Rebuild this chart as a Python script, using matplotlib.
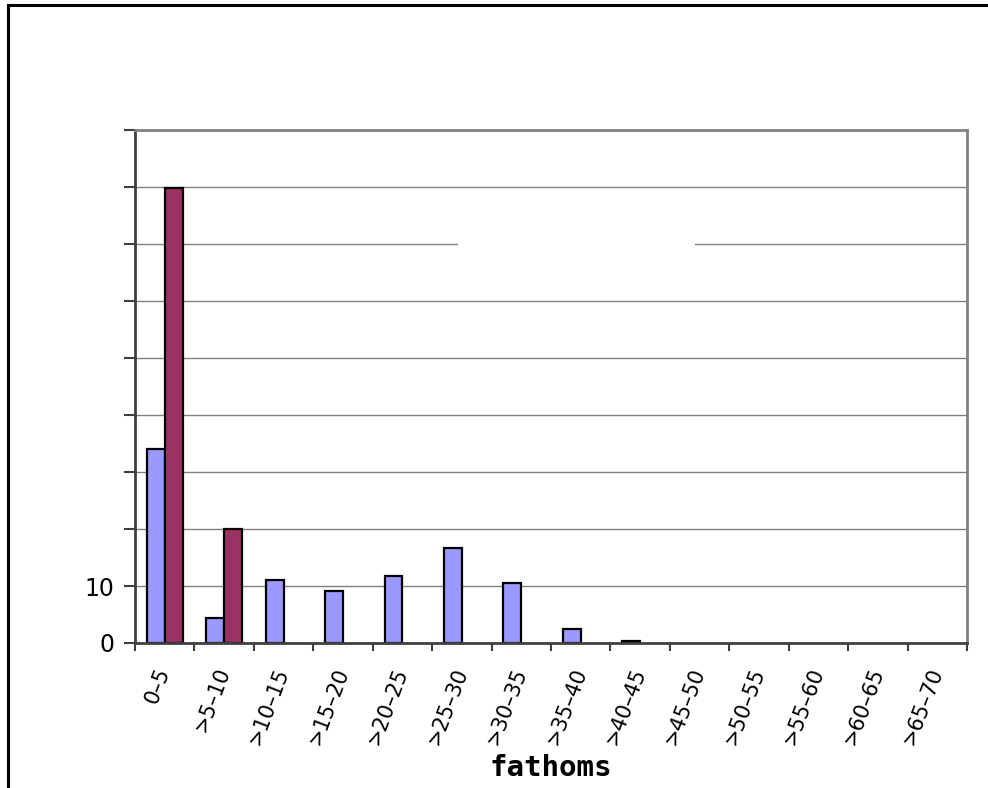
import numpy as np
import matplotlib
matplotlib.use("Agg")
import matplotlib.pyplot as plt
from matplotlib.patches import Rectangle
from matplotlib.lines import Line2D

categories = ["0–5", ">5–10", ">10–15", ">15–20", ">20–25", ">25–30", ">30–35",
              ">35–40", ">40–45", ">45–50", ">50–55", ">55–60", ">60–65", ">65–70"]
series_blue = [34.1, 4.3, 11.0, 9.2, 11.7, 16.6, 10.6, 2.5, 0.4, 0, 0, 0, 0, 0]
series_red = [79.8, 20.0, 0, 0, 0, 0, 0, 0, 0, 0, 0, 0, 0, 0]
y_ticks = [0, 10, 20, 30, 40, 50, 60, 70, 80, 90]
y_tick_labels = ["0", "10", "", "", "", "", "", "", "", ""]

fig = plt.figure(figsize=(9.88, 7.88), dpi=100)
ax = fig.add_axes([135 / 988, 1 - 643 / 788, 832 / 988, 513 / 788])

x = np.arange(len(categories))
w = 0.3
blue = np.array(series_blue, dtype=float)
red = np.array(series_red, dtype=float)
# empty bins are not drawn at all
blue[blue == 0] = np.nan
red[red == 0] = np.nan
ax.bar(x - w / 2, blue, width=w, color="#9999FF", edgecolor="black", linewidth=1.6, zorder=2)
ax.bar(x + w / 2, red, width=w, color="#993366", edgecolor="black", linewidth=1.6, zorder=2)

ax.set_xlim(-0.5, len(categories) - 0.5)
ax.set_ylim(0, 90)

# grid
for v in y_ticks[1:-1]:
    ax.axhline(v, color="#808080", linewidth=1.0, zorder=0.5)
# blank patch in the 70 line
ax.add_patch(Rectangle(((458 - 135) / 832, 68 / 90), (695 - 458) / 832, 4 / 90,
                       transform=ax.transAxes, facecolor="white", edgecolor="none", zorder=0.8))

ax.set_yticks(y_ticks)
ax.set_yticklabels(y_tick_labels, fontsize=17)
ax.set_xticks(np.arange(-0.5, len(categories)), minor=False)
ax.set_xticklabels([])
ax.set_xticks(x, minor=True)
ax.set_xticklabels(categories, minor=True, rotation=69, ha="right", va="center",
                   rotation_mode="anchor", fontsize=15)
ax.tick_params(axis="x", which="minor", length=0, pad=18)
ax.tick_params(axis="x", which="major", length=6, width=1.5, color="#404040", direction="out")
ax.tick_params(axis="y", length=8, width=1.5, color="#404040", direction="out", pad=7)

for side in ["left", "bottom"]:
    ax.spines[side].set_color("#404040")
    ax.spines[side].set_linewidth(2)
for side in ["top", "right"]:
    ax.spines[side].set_color("#808080")
    ax.spines[side].set_linewidth(2)

fig.text(551 / 988, 1 - 776 / 788, "fathoms", ha="center", va="baseline",
         fontsize=21, fontweight="bold", family="DejaVu Sans Mono")

# outer frame (left and top edges visible)
fig.add_artist(Line2D([8 / 988, 8 / 988], [0, 1 - 5 / 788], color="black", linewidth=2.2))
fig.add_artist(Line2D([8 / 988, 1], [1 - 5 / 788, 1 - 5 / 788], color="black", linewidth=2.2))

fig.savefig("out.png", dpi=100)
